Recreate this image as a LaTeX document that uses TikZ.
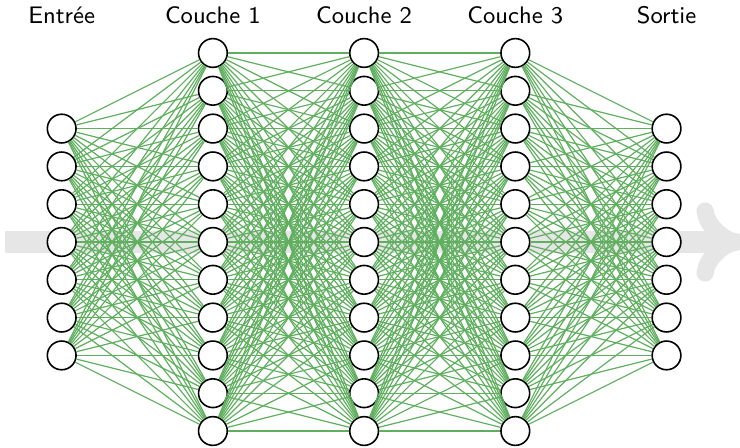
\documentclass[tikz,border=0pt]{standalone}
\usepackage{tikz}

\definecolor{linkgreen}{RGB}{95,175,95}
\definecolor{flowgray}{RGB}{230,230,230}

\begin{document}
\begin{tikzpicture}[
    neuron/.style={circle,draw=black,fill=white,semithick,minimum size=0.38cm,inner sep=0pt},
    link/.style={linkgreen,line width=0.45pt},
    layername/.style={font=\small\sffamily,anchor=base}
]
    \useasboundingbox (-0.816,-2.712) rectangle (8.972,3.201);

    % flow arrow behind the network
    \coordinate (flowstart) at (-0.75,0);
    \coordinate (flowtip) at (8.92,0);
    \draw[flowgray,line width=8.6pt] (flowstart) -- (8.75,0);
    \draw[flowgray,line width=6.5pt,line cap=round,line join=round]
        (8.51,0.41) .. controls (8.53,0.22) and (8.75,0.02) .. (flowtip)
        .. controls (8.75,-0.02) and (8.53,-0.22) .. (8.51,-0.41);

    % input layer
    \foreach \i in {1,...,7}
        \node[neuron] (in\i) at (0,{2-0.5*\i}) {};

    % hidden layers
    \foreach \l/\x in {1/2,2/4,3/6}
        \foreach \i in {1,...,11}
            \node[neuron] (h\l-\i) at (\x,{3-0.5*\i}) {};

    % output layer
    \foreach \i in {1,...,7}
        \node[neuron] (out\i) at (8,{2-0.5*\i}) {};

    % connections
    \foreach \i in {1,...,7}
        \foreach \j in {1,...,11}
            \draw[link] (in\i) -- (h1-\j);
    \foreach \l/\m in {1/2,2/3}
        \foreach \i in {1,...,11}
            \foreach \j in {1,...,11}
                \draw[link] (h\l-\i) -- (h\m-\j);
    \foreach \i in {1,...,11}
        \foreach \j in {1,...,7}
            \draw[link] (h3-\i) -- (out\j);

    % layer names
    \node[layername] (lin) at (0,2.884) {Entrée};
    \node[layername] (lh1) at (2,2.884) {Couche 1};
    \node[layername] (lh2) at (4,2.884) {Couche 2};
    \node[layername] (lh3) at (6,2.884) {Couche 3};
    \node[layername] (lout) at (8,2.884) {Sortie};
\end{tikzpicture}
\end{document}
